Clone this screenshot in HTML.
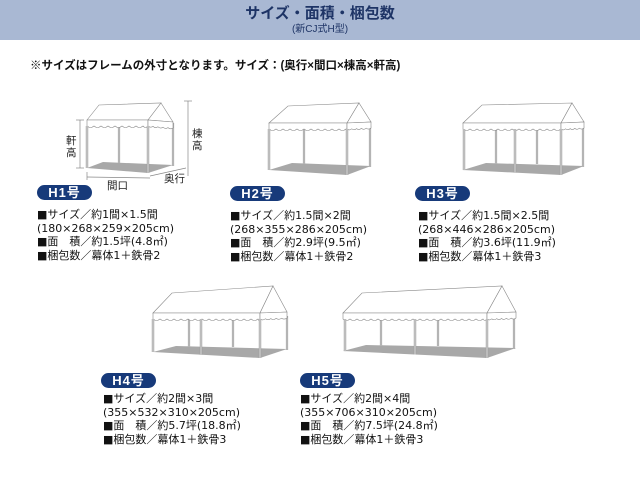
<!DOCTYPE html>
<html><head><meta charset="utf-8">
<style>
body{margin:0;width:640px;height:480px;background:#fff;position:relative;overflow:hidden;font-family:"Liberation Sans","Noto Sans CJK JP",sans-serif;}
.hdr{position:absolute;left:0;top:0;width:640px;height:40px;background:#a9b8d3;}
.t1{position:absolute;left:0;width:640px;top:5px;text-align:center;font-size:15px;font-weight:bold;color:#1e3466;line-height:17px;}
.t2{position:absolute;left:0;width:640px;top:24px;text-align:center;font-size:10px;color:#1e3466;line-height:12px;}
.note{position:absolute;left:30px;top:59px;font-size:11.5px;font-weight:bold;color:#111;line-height:14px;}
.badge{position:absolute;width:55px;height:15px;border-radius:8px;background:#173a7a;color:#fff;font-size:13px;font-weight:bold;text-align:center;line-height:15px;letter-spacing:1px;}
.txt{position:absolute;font-family:"DejaVu Sans","Noto Sans CJK JP",sans-serif;font-size:11px;line-height:13.7px;color:#111;white-space:nowrap;}
svg{position:absolute;left:0;top:0;}
</style></head><body>
<div class="hdr"></div>
<div class="t1">サイズ・面積・梱包数</div>
<div class="t2">(新CJ式H型)</div>
<div class="note">※サイズはフレームの外寸となります。サイズ：(奥行×間口×棟高×軒高)</div>

<svg id="s" width="640" height="480" xmlns="http://www.w3.org/2000/svg">
<g id="tents"></g>
<g stroke="#888" stroke-width="0.7" fill="none">
<line x1="80" y1="120" x2="80" y2="168"/><line x1="76" y1="120" x2="84" y2="120"/><line x1="76" y1="168" x2="84" y2="168"/>
<line x1="188" y1="101" x2="188" y2="176"/><line x1="184" y1="101" x2="192" y2="101"/>
<line x1="87" y1="177" x2="150" y2="178"/><line x1="87" y1="172" x2="87" y2="180"/>
<line x1="150" y1="176" x2="186" y2="168"/>
</g>
<g font-size="10.5" fill="#222" font-family="Liberation Sans, Noto Sans CJK JP, sans-serif">
<text x="66" y="144">軒</text><text x="66" y="156">高</text>
<text x="192" y="137">棟</text><text x="192" y="149">高</text>
<text x="107" y="189">間口</text>
<text x="164" y="182">奥行</text>
</g>
</svg>

<div class="badge" style="left:37px;top:185px">H1号</div>
<div class="badge" style="left:230px;top:186px">H2号</div>
<div class="badge" style="left:415px;top:186px">H3号</div>
<div class="badge" style="left:101px;top:373px">H4号</div>
<div class="badge" style="left:300px;top:373px">H5号</div>

<div class="txt" style="left:37px;top:208px">■サイズ／約1間×1.5間<br>(180×268×259×205cm)<br>■面　積／約1.5坪(4.8㎡)<br>■梱包数／幕体1＋鉄骨2</div>
<div class="txt" style="left:230px;top:209px">■サイズ／約1.5間×2間<br>(268×355×286×205cm)<br>■面　積／約2.9坪(9.5㎡)<br>■梱包数／幕体1＋鉄骨2</div>
<div class="txt" style="left:418px;top:209px">■サイズ／約1.5間×2.5間<br>(268×446×286×205cm)<br>■面　積／約3.6坪(11.9㎡)<br>■梱包数／幕体1＋鉄骨3</div>
<div class="txt" style="left:103px;top:392px">■サイズ／約2間×3間<br>(355×532×310×205cm)<br>■面　積／約5.7坪(18.8㎡)<br>■梱包数／幕体1＋鉄骨3</div>
<div class="txt" style="left:300px;top:392px">■サイズ／約2間×4間<br>(355×706×310×205cm)<br>■面　積／約7.5坪(24.8㎡)<br>■梱包数／幕体1＋鉄骨3</div>

<script>
var T=[
 {x0:87,x1:148,y:120,rl:[99,105],ap:[161,103],be:[173,122],fp:[87,148],bp:[119,173],bfl:168,bfr:173,bb:163},
 {x0:269,x1:347,y:123,rl:[288,106],ap:[359,103],be:[371,122],fp:[269,347],bp:[304,370],bfl:170,bfr:175,bb:164},
 {x0:463,x1:561,y:123,rl:[482,105],ap:[572,103],be:[584,122],fp:[464,515,561],bp:[496,537,583],bfl:170,bfr:175,bb:164},
 {x0:153,x1:260,y:313,rl:[172,293],ap:[273,286],be:[287,312],fp:[153,201,260],bp:[189,233,287],bfl:352,bfr:358,bb:347},
 {x0:343,x1:487,y:313,rl:[362,293],ap:[502,286],be:[516,312],fp:[345,415,487],bp:[381,438,514],bfl:351,bfr:358,bb:346}
];
var h='';
T.forEach(function(t){
 var vy=t.y+6;
 h+='<polygon points="'+t.x0+','+t.bfl+' '+(t.rl[0]+4)+','+(t.bb-1)+' '+t.be[0]+','+(t.bb+2)+' '+t.x1+','+t.bfr+'" fill="#a8a8a8"/>';
 t.bp.forEach(function(x,i){var last=i==t.bp.length-1;h+='<line x1="'+x+'" y1="'+(t.y+3)+'" x2="'+x+'" y2="'+(last?t.bb+3:t.bb)+'" stroke="#999" stroke-width="2.2"/><line x1="'+x+'" y1="'+(t.y+3)+'" x2="'+x+'" y2="'+(last?t.bb+3:t.bb)+'" stroke="#ddd" stroke-width="0.8"/>';});
 h+='<polygon points="'+t.x0+','+t.y+' '+t.rl[0]+','+t.rl[1]+' '+t.ap[0]+','+t.ap[1]+' '+t.x1+','+t.y+'" fill="#fff" stroke="#888" stroke-width="0.6"/>';
 h+='<polygon points="'+t.x1+','+t.y+' '+t.ap[0]+','+t.ap[1]+' '+t.be[0]+','+t.be[1]+'" fill="#fff" stroke="#888" stroke-width="0.6"/>';
 var d='M'+t.x0+','+t.y+' L'+t.x0+','+vy;
 for(var x=t.x0;x<t.x1;x+=7){var xe=Math.min(x+7,t.x1);d+=' Q'+((x+xe)/2)+','+(vy+3)+' '+xe+','+vy;}
 d+=' L'+t.x1+','+t.y+' Z';
 h+='<path d="'+d+'" fill="#fff" stroke="#888" stroke-width="0.6"/>';
 var d2='M'+t.x1+','+t.y+' L'+t.x1+','+vy;
 var n=Math.round((t.be[0]-t.x1)/5),dx=(t.be[0]-t.x1)/n,dy=(t.be[1]-t.y)/n;
 for(var i=0;i<n;i++){var xa=t.x1+dx*i,ya=vy+dy*i,xb=xa+dx,yb=ya+dy;d2+=' Q'+((xa+xb)/2)+','+((ya+yb)/2+2)+' '+xb+','+yb;}
 d2+=' L'+t.be[0]+','+t.be[1]+' Z';
 h+='<path d="'+d2+'" fill="#fff" stroke="#888" stroke-width="0.6"/>';
 t.fp.forEach(function(x,i){var yb=t.bfl+(t.bfr-t.bfl)*(x-t.x0)/(t.x1-t.x0);h+='<line x1="'+x+'" y1="'+(vy)+'" x2="'+x+'" y2="'+yb+'" stroke="#999" stroke-width="2.4"/><line x1="'+x+'" y1="'+vy+'" x2="'+x+'" y2="'+yb+'" stroke="#e6e6e6" stroke-width="0.9"/>';});
});
document.getElementById('tents').innerHTML=h;
</script>
</body></html>
